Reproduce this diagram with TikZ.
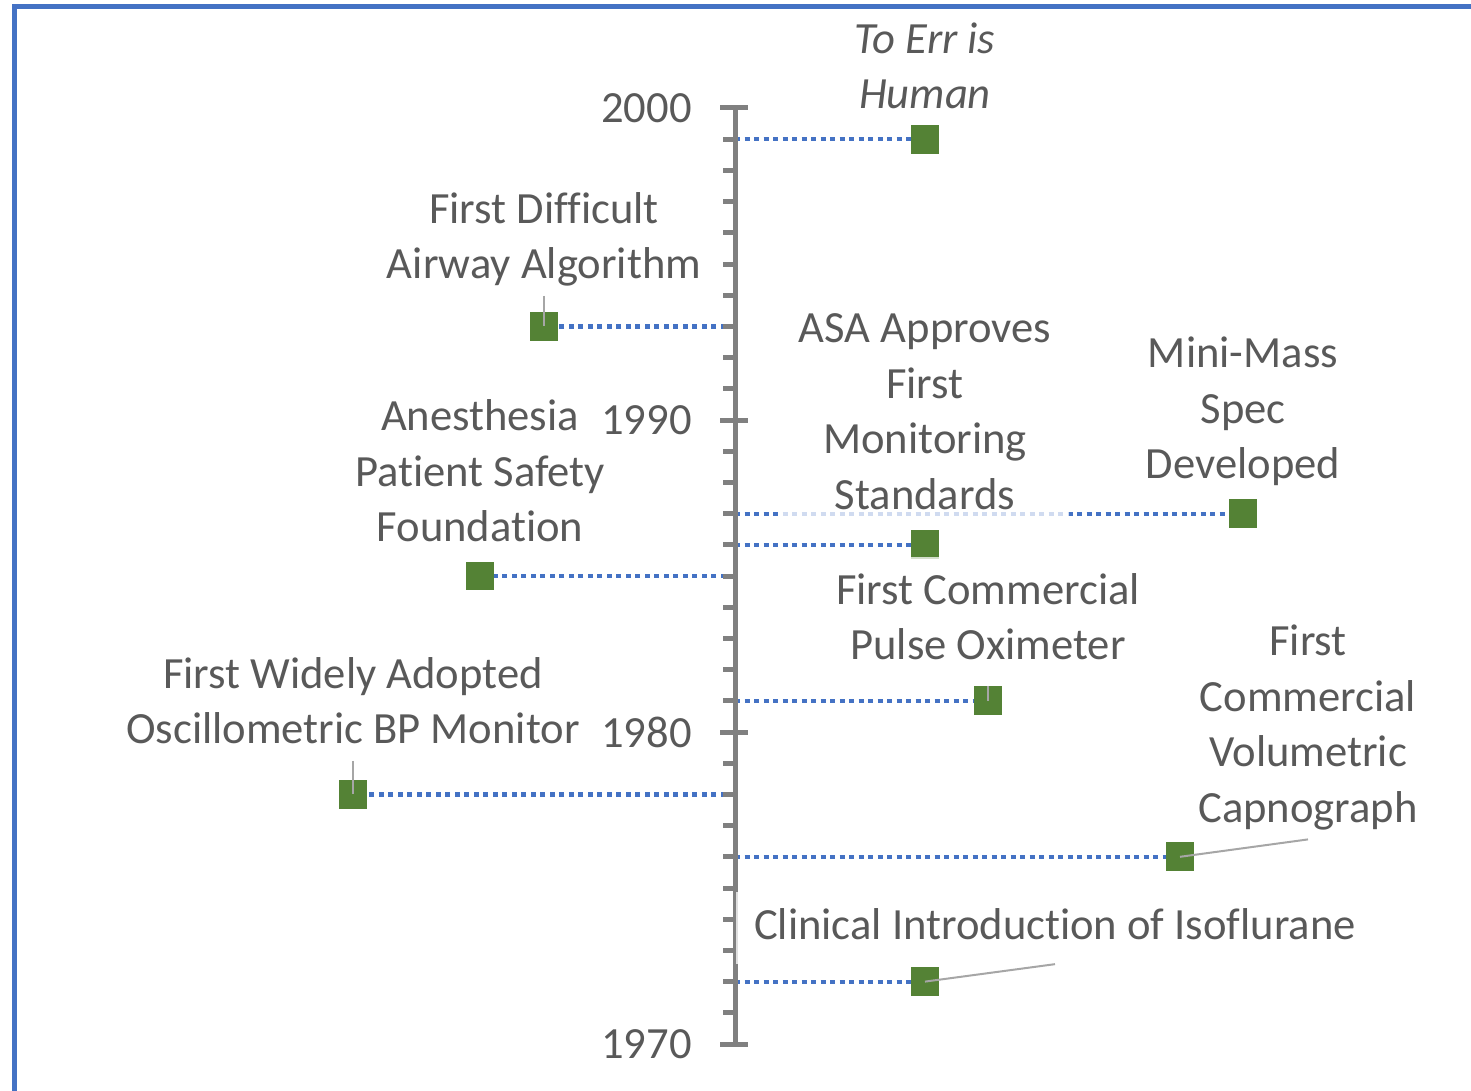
\documentclass[tikz,border=0pt]{standalone}
\usepackage{fontspec}
\setmainfont{Carlito}[Ligatures={NoCommon}]
\definecolor{txtgray}{HTML}{595959}
\definecolor{axgray}{HTML}{808080}
\definecolor{ldrgray}{HTML}{A6A6A6}
\definecolor{dotblue}{HTML}{4472C4}
\definecolor{mkgreen}{HTML}{548235}
\definecolor{frameblue}{HTML}{4472C4}
\begin{document}
\begin{tikzpicture}[x=0.5pt,y=-0.5pt,
  declare function={yr(\t)=108+(2000-\t)*31.2;},
  txt/.style={text=txtgray, font=\fontsize{22.3}{27.75}\selectfont},
  lbl/.style={txt, align=center, fill=white, fill opacity=0.75, text opacity=1,
              inner xsep=9pt, inner ysep=0pt},
  yearlbl/.style={txt, anchor=east, inner sep=0pt},
  axisline/.style={draw=axgray, line width=2.5pt},
  dotline/.style={draw=dotblue, line width=2.1pt, dash pattern=on 2.5pt off 2.25pt},
  mk/.style={rectangle, fill=mkgreen, minimum size=14pt, inner sep=0pt},
  ldr/.style={draw=ldrgray, line width=1pt},
]
\useasboundingbox (0,0) rectangle (1471,1091);

% anchor points on the time axis
\foreach \t in {1970,1972,1976,1978,1981,1985,1986,1987,1993,1999,2000}
  \coordinate (a\t) at (735,{yr(\t)});

% event markers (placed first so the drop lines can reach them)
\path
  (925,{yr(1999)})  node[mk] (m1999) {}
  (544,{yr(1993)})  node[mk] (m1993) {}
  (1243,{yr(1987)}) node[mk] (m1987) {}
  (925,{yr(1986)})  node[mk] (m1986) {}
  (480,{yr(1985)})  node[mk] (m1985) {}
  (988,{yr(1981)})  node[mk] (m1981) {}
  (353,{yr(1978)})  node[mk] (m1978) {}
  (1180,{yr(1976)}) node[mk] (m1976) {}
  (925,{yr(1972)})  node[mk] (m1972) {};

% dotted drop lines from the axis to each marker
\foreach \t in {1999,1993,1987,1986,1985,1981,1978,1976,1972}
  \draw[dotline] (a\t) -- (m\t.center);

% time axis with yearly ticks
\draw[axisline] (a2000) -- (a1970);
\foreach \t in {1971,...,1999}
  \draw[axisline] (723,{yr(\t)}) -- (735,{yr(\t)});
\foreach \t in {1970,1980,1990,2000}
  \draw[axisline] (720,{yr(\t)}) -- (748,{yr(\t)});

% markers on top of the lines
\foreach \t in {1999,1993,1987,1986,1985,1981,1978,1976,1972}
  \fill[mkgreen] (m\t.south west) rectangle (m\t.north east);

% event labels
\node[lbl, fill=none] (l1999) at (925,70) {\itshape\strut To Err is\\\itshape Human\strut};
\node[lbl] (l1993) at (544,240) {\strut First Difficult\\Airway Algorithm\strut};
\node[lbl] (l1986) at (925,415) {\strut ASA Approves\\First\\Monitoring\\Standards\strut};
\node[lbl] (l1987) at (1243,412) {\strut Mini-Mass\\Spec\\Developed\strut};
\node[lbl] (l1985) at (480,475) {\strut Anesthesia\\Patient Safety\\Foundation\strut};
\node[lbl, inner ysep=4.5pt] (l1981) at (988,621) {\strut First Commercial\\Pulse Oximeter\strut};
\node[lbl] (l1978) at (353,705) {\strut First Widely Adopted\\Oscillometric BP Monitor\strut};
\node[lbl] (l1976) at (1308,728) {\strut First\\Commercial\\Volumetric\\Capnograph\strut};
\node[lbl, inner ysep=4pt] (l1972) at (1055,928) {\strut Clinical Introduction of Isoflurane\strut};

% leader lines from labels to markers
\foreach \t in {1993,1981,1978,1976,1972}
  \draw[ldr] (l\t.south) -- (m\t.center);

% year labels
\foreach \t in {1970,1980,1990,2000}
  \node[yearlbl] (y\t) at (692,{yr(\t)}) {\t};

% frame
\draw[frameblue, line width=2.5pt] (14.8,1091) -- (14.8,6.7) -- (1471,6.7);
\end{tikzpicture}
\end{document}
